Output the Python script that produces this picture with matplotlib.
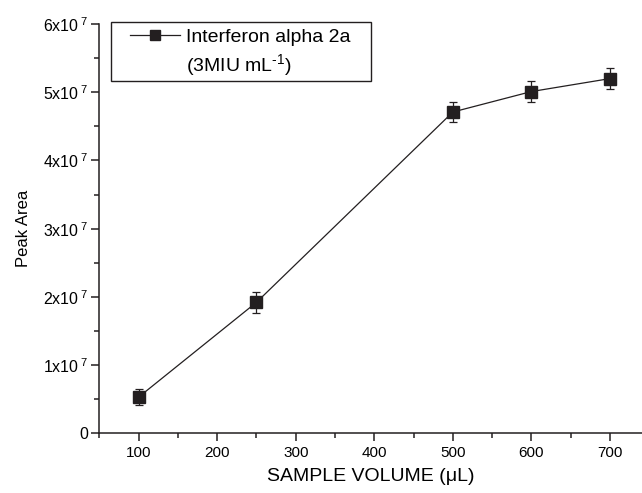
import numpy as np
import matplotlib.pyplot as plt
from matplotlib.ticker import MultipleLocator, FuncFormatter
from matplotlib.lines import Line2D
from matplotlib.patches import Rectangle

plt.rcParams['font.family'] = ['Liberation Sans', 'DejaVu Sans']
plt.rcParams['mathtext.fontset'] = 'custom'
plt.rcParams['mathtext.rm'] = 'Liberation Sans'
plt.rcParams['mathtext.it'] = 'Liberation Sans'

# data
volume = [100, 250, 500, 600, 700]
peak_area = [5.3e6, 1.92e7, 4.71e7, 5.01e7, 5.2e7]
peak_err = [1.2e6, 1.5e6, 1.4e6, 1.5e6, 1.6e6]

W, H = 642, 493
fig = plt.figure(figsize=(W / 100, H / 100), dpi=100)
ax = fig.add_axes([99.3 / W, 1 - 433.3 / H, (641.5 - 99.3) / W, (433.3 - 24) / H])

ink = '#231f20'
ax.errorbar(volume, peak_area, yerr=peak_err, color=ink, lw=0.9,
            marker='s', ms=8.6, mfc=ink, mec=ink,
            ecolor=ink, elinewidth=0.9, capsize=3.2, capthick=0.9)

ax.set_xlim(50, 740)
ax.set_ylim(0, 6e7)
ax.xaxis.set_major_locator(MultipleLocator(100))
ax.xaxis.set_minor_locator(MultipleLocator(50))
ax.yaxis.set_major_locator(MultipleLocator(1e7))
ax.yaxis.set_minor_locator(MultipleLocator(5e6))

def fmt(v, pos):
    n = int(round(v / 1e7))
    if n == 0:
        return '0'
    return '%dx10$\\,^{7}$' % n

ax.yaxis.set_major_formatter(FuncFormatter(fmt))
for s in ['top', 'right']:
    ax.spines[s].set_visible(False)
for s in ['left', 'bottom']:
    ax.spines[s].set_linewidth(1.1)
    ax.spines[s].set_color(ink)
ax.tick_params(which='major', direction='out', length=6, width=1.1, color=ink)
ax.tick_params(which='minor', direction='out', length=3.5, width=1.1, color=ink)
ax.tick_params(axis='x', labelsize=11, pad=3)
ax.tick_params(axis='y', labelsize=11.5, pad=2)

ax.set_xlabel('SAMPLE VOLUME (\u03bcL)', fontsize=14, labelpad=6)
ax.set_ylabel('Peak Area', fontsize=12, labelpad=9)

# legend: two rows, second row has no handle
h1 = Line2D([], [], color=ink, lw=0.9, marker='s', ms=7.5, mfc=ink, mec=ink)
h2 = Line2D([], [], lw=0)
leg = ax.legend([h1, h2], ['Interferon alpha 2a', '(3MIU mL$^{\\text{-1}}$)'],
                loc='upper left', bbox_to_anchor=(130 / W, 1 - 28 / H),
                bbox_transform=fig.transFigure, frameon=False, fontsize=14,
                borderpad=0, borderaxespad=0, handlelength=2.58,
                handletextpad=0.3, labelspacing=0.33)
fig.patches.append(Rectangle((111 / W, 1 - 81 / H), (371 - 111) / W, (81 - 22) / H,
                             transform=fig.transFigure, fill=False,
                             edgecolor=ink, lw=1.0))

fig.savefig('out.png', dpi=100)
